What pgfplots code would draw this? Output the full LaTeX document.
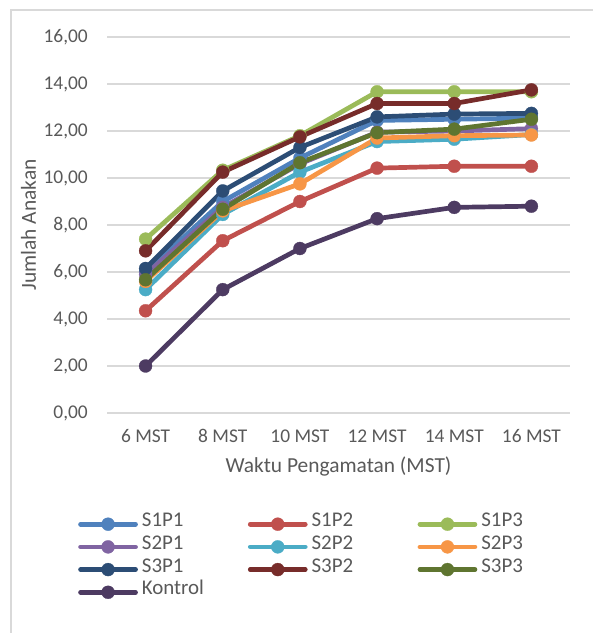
\documentclass[border=0pt]{standalone}
\usepackage{pgfplots}
\pgfplotsset{compat=1.18}
\usepackage{fontspec}
\setmainfont{Carlito}
\definecolor{txt}{HTML}{595959}
\definecolor{grd}{HTML}{D9D9D9}
\definecolor{cA}{HTML}{4F81BD}
\definecolor{cB}{HTML}{C0504D}
\definecolor{cC}{HTML}{9BBB59}
\definecolor{cD}{HTML}{8064A2}
\definecolor{cE}{HTML}{4BACC6}
\definecolor{cF}{HTML}{F79646}
\definecolor{cG}{HTML}{2C4D75}
\definecolor{cH}{HTML}{772C2A}
\definecolor{cI}{HTML}{5F7530}
\definecolor{cK}{HTML}{4D3B62}
\pgfplotsset{
  ser/.style={color=#1, line width=4.7bp, line cap=round, line join=round,
    mark=*, mark size=6.5bp, mark options={solid, fill=#1, draw=#1, line width=0.3bp}},
}
\newcommand{\lt}[1]{\makebox[106bp][l]{#1}}
\begin{document}
\begin{tikzpicture}
\useasboundingbox (0bp,0bp) rectangle (593bp,633bp);
\draw[grd, line width=1.2bp] (11bp,0bp) -- (11bp,623bp) -- (593bp,623bp);
\begin{axis}[
  at={(107bp,220bp)}, anchor=south west,
  scale only axis, width=463bp, height=376bp,
  xmin=-0.5, xmax=5.5, ymin=0, ymax=16,
  ytick={0,2,...,16},
  xtick={0,...,5},
  xticklabels={6 MST,8 MST,10 MST,12 MST,14 MST,16 MST},
  axis line style={draw=none},
  ymajorgrids, grid style={grd, line width=1.3bp},
  major tick length=0pt,
  tick label style={font=\fontsize{19.5}{22}\selectfont, text=txt},
  yticklabel style={anchor=base east, inner sep=0pt, xshift=-19bp, yshift=-6bp,
    /pgf/number format/.cd, fixed, fixed zerofill, precision=2, use comma, assume math mode=true},
  xticklabel style={anchor=base, inner sep=0pt, yshift=-30bp},
  xlabel={Waktu Pengamatan (MST)},
  ylabel={Jumlah Anakan},
  label style={font=\fontsize{21.5}{25}\selectfont, text=txt},
  xlabel style={at={(axis description cs:0.5,-0.159)}, anchor=base, inner sep=0pt},
  ylabel style={at={(axis description cs:-0.1534,0.5)}, anchor=base, inner sep=0pt},
  legend columns=3,
  legend style={at={(axis description cs:-0.0626,-0.265)}, anchor=north west,
    draw=none, fill=none, inner sep=0pt, font=\fontsize{21}{24}\selectfont, text=txt,
    nodes={inner sep=0pt, text height=14bp, text depth=8.7bp},
    /tikz/every odd column/.style={column sep=4bp}},
  legend cell align=left,
  legend image code/.code={\draw[#1, mark repeat=2, mark phase=2] plot coordinates {(0bp,0bp) (27.5bp,0bp) (55bp,0bp)};},
]
\addplot[ser=cA] coordinates {(0,6.0) (1,9.0) (2,10.85) (3,12.45) (4,12.5) (5,12.55)};
\addlegendentry{\lt{S1P1}}
\addplot[ser=cB] coordinates {(0,4.35) (1,7.33) (2,9.0) (3,10.42) (4,10.5) (5,10.5)};
\addlegendentry{\lt{S1P2}}
\addplot[ser=cC] coordinates {(0,7.4) (1,10.33) (2,11.8) (3,13.67) (4,13.67) (5,13.67)};
\addlegendentry{S1P3}
\addplot[ser=cD] coordinates {(0,5.9) (1,8.75) (2,10.6) (3,11.95) (4,12.0) (5,12.1)};
\addlegendentry{\lt{S2P1}}
\addplot[ser=cE] coordinates {(0,5.25) (1,8.45) (2,10.25) (3,11.55) (4,11.65) (5,11.85)};
\addlegendentry{\lt{S2P2}}
\addplot[ser=cF] coordinates {(0,5.6) (1,8.6) (2,9.75) (3,11.7) (4,11.8) (5,11.83)};
\addlegendentry{S2P3}
\addplot[ser=cG] coordinates {(0,6.15) (1,9.45) (2,11.3) (3,12.6) (4,12.72) (5,12.75)};
\addlegendentry{\lt{S3P1}}
\addplot[ser=cH] coordinates {(0,6.9) (1,10.25) (2,11.75) (3,13.17) (4,13.17) (5,13.75)};
\addlegendentry{\lt{S3P2}}
\addplot[ser=cI] coordinates {(0,5.67) (1,8.67) (2,10.65) (3,11.93) (4,12.08) (5,12.5)};
\addlegendentry{S3P3}
\addplot[ser=cK] coordinates {(0,2.0) (1,5.25) (2,7.0) (3,8.27) (4,8.75) (5,8.8)};
\addlegendentry{Kontrol}
\end{axis}
\end{tikzpicture}
\end{document}
